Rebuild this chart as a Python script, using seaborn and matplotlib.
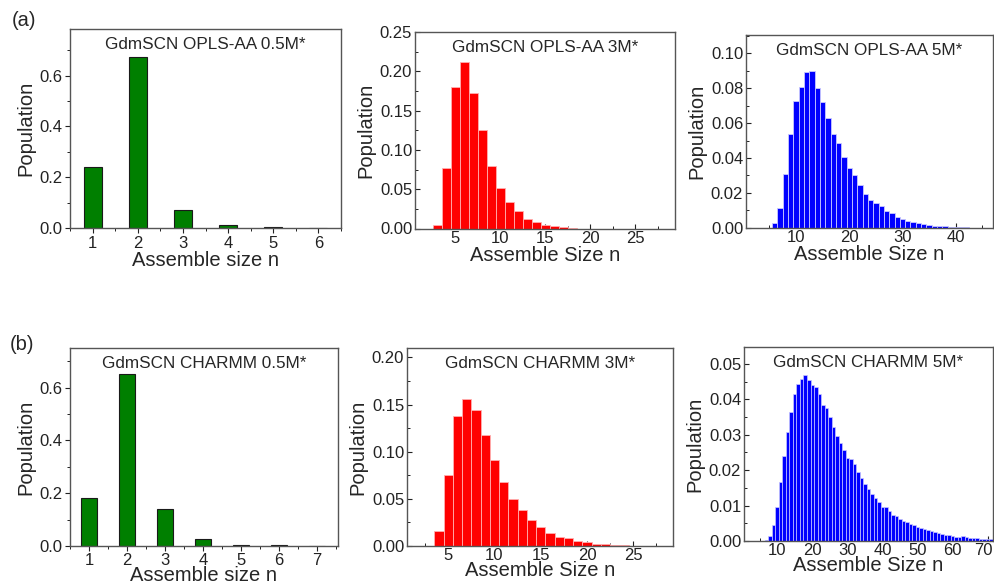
import numpy as np
import pandas as pd
import matplotlib
matplotlib.use("Agg")
import matplotlib.pyplot as plt
import matplotlib.transforms as mtransforms
import seaborn as sns
from matplotlib.ticker import MultipleLocator

# ---------------- data ----------------
a1_n = [1, 2, 3, 4, 5, 6]
a1_pop = [0.240, 0.673, 0.071, 0.011, 0.002, 0.0003]

a2_n = list(range(3, 19))
a2_pop = [0.004, 0.077, 0.180, 0.212, 0.172, 0.125, 0.080, 0.051, 0.034,
          0.022, 0.0127, 0.0085, 0.005, 0.003, 0.0015, 0.0007]

a3_n = list(range(6, 43))
a3_pop = [0.0029, 0.0115, 0.0308, 0.0537, 0.0727, 0.0805, 0.0895, 0.0900,
          0.0803, 0.0719, 0.0627, 0.0537, 0.0484, 0.0407, 0.0342, 0.0300,
          0.0245, 0.0195, 0.0159, 0.0143, 0.0126, 0.0094, 0.0082, 0.0063,
          0.0050, 0.0040, 0.0030, 0.0025, 0.0020, 0.0015, 0.0012, 0.0010,
          0.0008, 0.0006, 0.0004, 0.0003, 0.0002]

b1_n = [1, 2, 3, 4, 5, 6, 7]
b1_pop = [0.181, 0.650, 0.142, 0.025, 0.005, 0.002, 0.0003]

b2_n = list(range(4, 26))
b2_pop = [0.0158, 0.0749, 0.1378, 0.1557, 0.1441, 0.1178, 0.0914, 0.0675,
          0.0503, 0.0380, 0.0274, 0.0197, 0.0140, 0.0098, 0.0081, 0.0053,
          0.0039, 0.0025, 0.0018, 0.0011, 0.0007, 0.0004]

b3_n = list(range(7, 72))
b3_pop = [0.0003, 0.0014, 0.0044, 0.0097, 0.0166, 0.0239, 0.0308, 0.0363,
          0.0416, 0.0443, 0.0457, 0.0469, 0.0454, 0.0440, 0.0434, 0.0416,
          0.0385, 0.0376, 0.0350, 0.0322, 0.0298, 0.0278, 0.0258, 0.0234,
          0.0232, 0.0217, 0.0196, 0.0177, 0.0161, 0.0148, 0.0133, 0.0122,
          0.0110, 0.0096, 0.0096, 0.0084, 0.0073, 0.0072, 0.0063, 0.0057,
          0.0054, 0.0047, 0.0044, 0.0040, 0.0037, 0.0034, 0.0031, 0.0027,
          0.0025, 0.0023, 0.0021, 0.0018, 0.0016, 0.0015, 0.0012, 0.0010,
          0.0013, 0.0010, 0.0009, 0.0009, 0.0008, 0.0007, 0.0007, 0.0006,
          0.0005]

titles = ["GdmSCN OPLS-AA 0.5M*", "GdmSCN OPLS-AA 3M*", "GdmSCN OPLS-AA 5M*",
          "GdmSCN CHARMM 0.5M*", "GdmSCN CHARMM 3M*", "GdmSCN CHARMM 5M*"]
xlabels = ["Assemble size n", "Assemble Size n", "Assemble Size n",
           "Assemble size n", "Assemble Size n", "Assemble Size n"]
panel_labels = ["(a)", "(b)"]

# ---------------- style ----------------
sns.set_theme(style="ticks")
plt.rcParams['font.family'] = ['Liberation Sans', 'DejaVu Sans']

W, H = 994, 586
fig = plt.figure(figsize=(W / 100, H / 100), dpi=100)

def px_axes(x0, y0, x1, y1):
    return fig.add_axes([x0 / W, 1 - y1 / H, (x1 - x0) / W, (y1 - y0) / H])

specs = [
    (a1_n, a1_pop, (70, 29, 341, 228), "#007f00", "#1a1a1a", 0.8, 0.4, (0.5, 6.5), (0, 0.784), 1, 0.5, 0.2, 0.1, "%.1f", "out", None),
    (a2_n, a2_pop, (415, 32, 675, 228.5), "#ff0000", "#ffb0b0", 0.6, 1.0, (0.55, 29.4), (0, 0.25), 5, 2.5, 0.05, 0.025, "%.2f", "in", [5, 10, 15, 20, 25]),
    (a3_n, a3_pop, (746, 35, 993, 227.7), "#0000ff", "#c8c8ff", 0.6, 1.0, (0.6, 47.0), (0, 0.1105), 10, 5, 0.02, 0.01, "%.2f", "in", [10, 20, 30, 40]),
    (b1_n, b1_pop, (70, 348, 338, 546), "#007f00", "#1a1a1a", 0.8, 0.4, (0.5, 7.55), (0, 0.75), 1, 0.5, 0.2, 0.1, "%.1f", "out", None),
    (b2_n, b2_pop, (407, 348, 673, 546), "#ff0000", "#ffb0b0", 0.6, 1.0, (0.55, 29.3), (0, 0.21), 5, 2.5, 0.05, 0.025, "%.2f", "in", [5, 10, 15, 20, 25]),
    (b3_n, b3_pop, (744, 347, 993, 541), "#0000ff", "#c8c8ff", 0.5, 1.0, (0.55, 71.5), (0, 0.0548), 10, 5, 0.01, 0.005, "%.2f", "in", [10, 20, 30, 40, 50, 60, 70]),
]

for i, (n, pop, rect, col, ec, lw, wid, xl, yl, xmaj, xmin, ymaj, ymin, fmt, tdir, xt) in enumerate(specs):
    ax = px_axes(*rect)
    df = pd.DataFrame({"n": n, "pop": pop})
    sns.barplot(data=df, x="n", y="pop", native_scale=True, width=wid,
                color=col, saturation=1, edgecolor=ec, linewidth=lw,
                errorbar=None, ax=ax)
    ax.set_xlim(*xl)
    ax.set_ylim(*yl)
    ax.xaxis.set_major_locator(MultipleLocator(xmaj))
    ax.xaxis.set_minor_locator(MultipleLocator(xmin))
    ax.yaxis.set_major_locator(MultipleLocator(ymaj))
    ax.yaxis.set_minor_locator(MultipleLocator(ymin))
    if xt is not None:
        ax.set_xticks(xt)
    ax.yaxis.set_major_formatter(matplotlib.ticker.FormatStrFormatter(fmt))
    ax.xaxis.set_major_formatter(matplotlib.ticker.FormatStrFormatter("%d"))
    ax.tick_params(axis="both", which="major", direction=tdir, length=3.5,
                   width=0.8, labelsize=12, colors="#222222", pad=2)
    ax.tick_params(axis="both", which="minor", direction=tdir, length=2,
                   width=0.7, colors="#222222")
    if i >= 3:
        ax.tick_params(axis="x", which="major", pad=1.2)
    for sp in ax.spines.values():
        sp.set_visible(True)
        sp.set_color("#555555")
        sp.set_linewidth(1.0)
    ax.set_xlabel(xlabels[i], fontsize=14.5, labelpad=(0 if i < 3 else -1))
    ax.set_ylabel("Population", fontsize=14.5, labelpad=3)
    ax.annotate(titles[i], xy=(0.5, 1), xycoords="axes fraction",
                xytext=(0, -11), textcoords="offset points",
                ha="center", va="center", fontsize=12.3)
    if i == 5:
        fig.canvas.draw()
        last = ax.get_xticklabels()[-1]
        last.set_transform(last.get_transform() +
                           mtransforms.ScaledTranslation(-4 / 100, 0, fig.dpi_scale_trans))

fig.text(24 / W, 1 - 21 / H, panel_labels[0], fontsize=14.5, ha="center", va="center")
fig.text(22 / W, 1 - 345 / H, panel_labels[1], fontsize=14.5, ha="center", va="center")

fig.savefig("out.png", dpi=100)
